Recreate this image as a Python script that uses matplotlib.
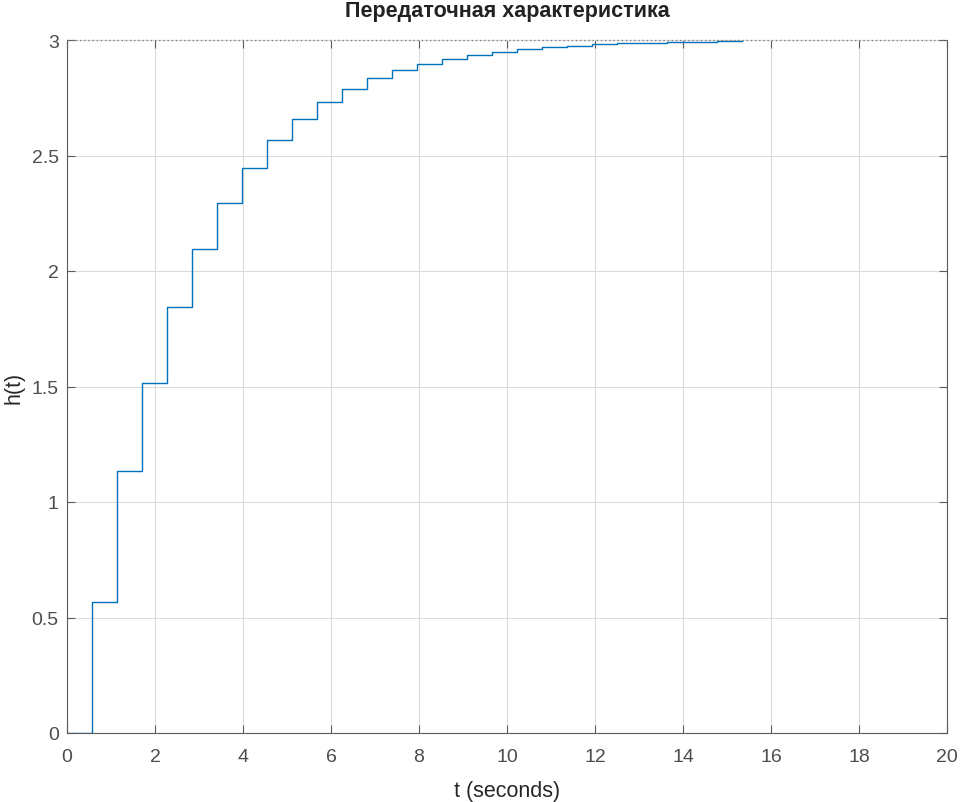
import matplotlib
matplotlib.use("Agg")
import matplotlib.pyplot as plt
import numpy as np

# Data
sample_time = 0.568
h_values = [0.0, 0.569, 1.134, 1.517, 1.845, 2.095, 2.293, 2.444, 2.565, 2.659,
            2.733, 2.790, 2.836, 2.870, 2.897, 2.919, 2.936, 2.950, 2.961, 2.969,
            2.976, 2.981, 2.985, 2.988, 2.991, 2.993, 2.995, 2.996]
final_value = 3.0
x_ticks = [0, 2, 4, 6, 8, 10, 12, 14, 16, 18, 20]
y_ticks = [0, 0.5, 1, 1.5, 2, 2.5, 3]
y_tick_labels = ["0", "0.5", "1", "1.5", "2", "2.5", "3"]

plt.rcParams['font.family'] = ['Liberation Sans', 'DejaVu Sans']

t = np.arange(len(h_values)) * sample_time

fig = plt.figure(figsize=(9.62, 8.03), dpi=100)
ax = fig.add_axes([67/962, 1-734/803, (947-67)/962, (734-41)/803])

ax.step(t, h_values, where='post', color='#0072BD', lw=1.0)
ax.axhline(final_value, color='#7f7f7f', ls=(0, (1, 2)), lw=1.0, clip_on=False, zorder=5)

ax.set_xlim(0, 20)
ax.set_ylim(0, 3)
ax.set_xticks(x_ticks)
ax.set_yticks(y_ticks)
ax.set_yticklabels(y_tick_labels)

spine_col = '#5a5a5a'
for s in ['left', 'right', 'bottom']:
    ax.spines[s].set_color(spine_col)
    ax.spines[s].set_linewidth(0.8)
ax.spines['top'].set_visible(False)

ax.tick_params(direction='in', length=6, width=0.8, color=spine_col,
               labelcolor='#4d4d4d', labelsize=14, top=True, right=True)
ax.tick_params(axis='x', pad=10.5)
ax.tick_params(axis='y', pad=6)

ax.grid(True, color='#dcdcdc', lw=0.8)
ax.set_axisbelow(True)

ax.set_title('Передаточная характеристика', fontsize=15.5, fontweight='bold',
             color='#222222', pad=17)
ax.set_xlabel('t (seconds)', fontsize=15.5, color='#262626', labelpad=11)
ax.set_ylabel('h(t)', fontsize=15.5, color='#262626', labelpad=5)

fig.savefig('out.png', dpi=100)
